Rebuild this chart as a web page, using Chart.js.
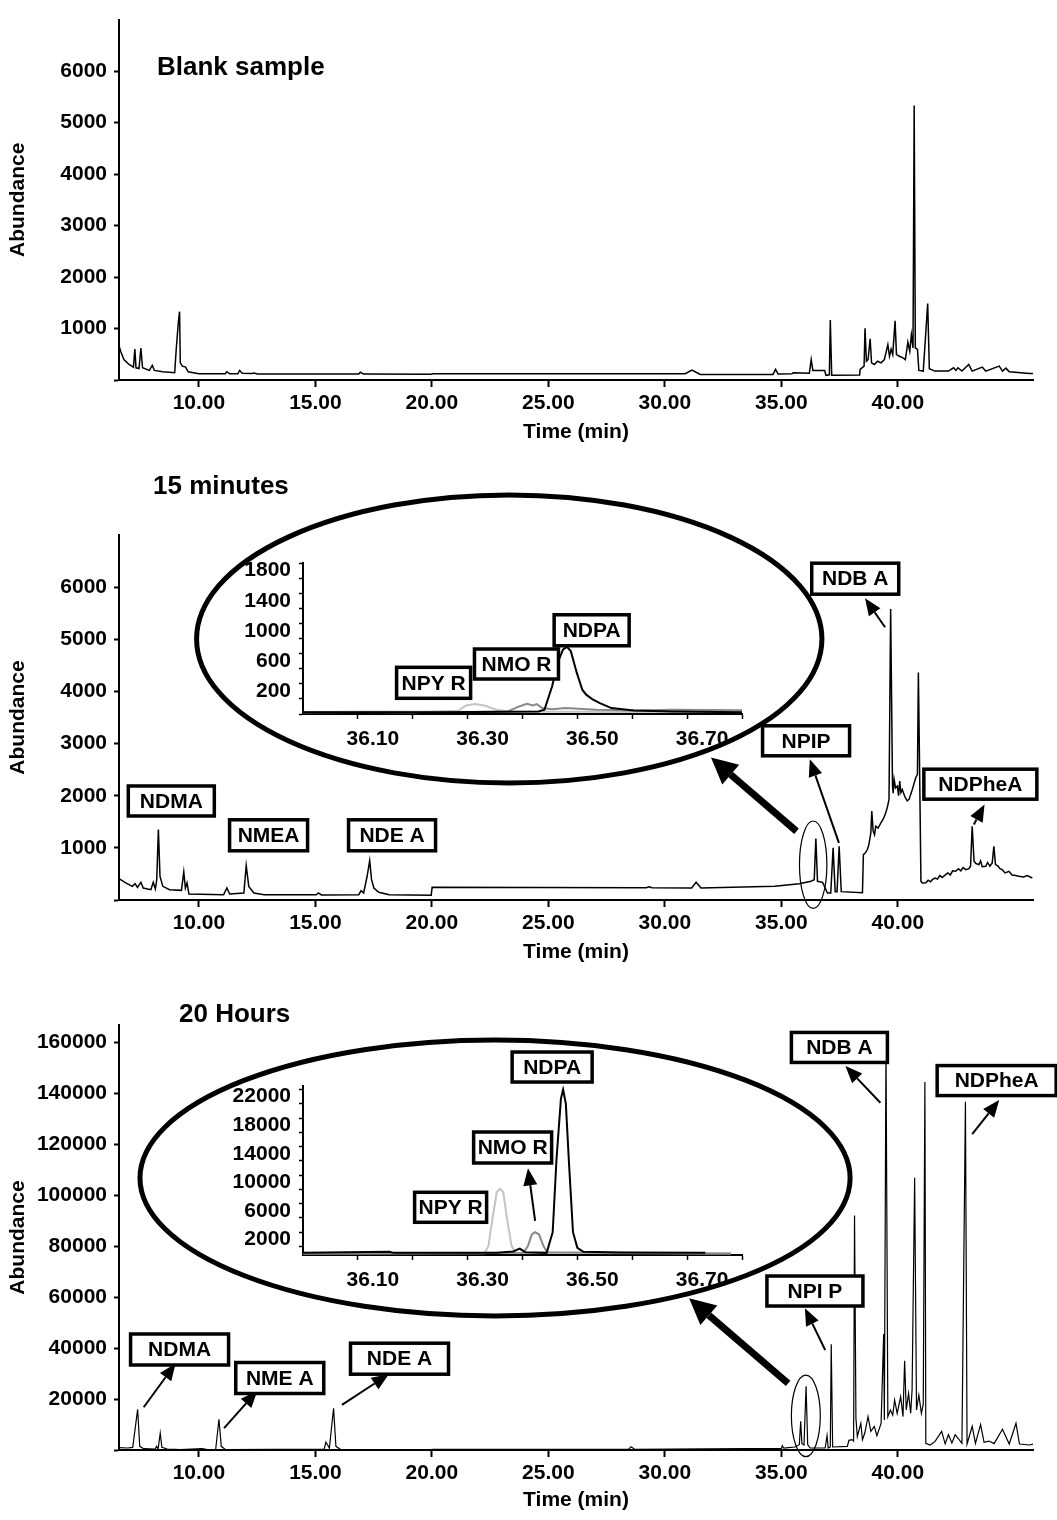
<!DOCTYPE html>
<html>
<head>
<meta charset="utf-8">
<script src="https://cdn.jsdelivr.net/npm/chart.js@4.4.0/dist/chart.umd.min.js"></script>
<style>
  body { margin: 0; background: #fff; }
  #fig { position: relative; width: 1057px; height: 1520px; }
  canvas { position: absolute; }
</style>
</head>
<body>
<div id="fig">
  <canvas id="blank" width="1057" height="452" style="left:0;top:0"></canvas>
  <canvas id="min15" width="1057" height="512" style="left:0;top:460px"></canvas>
  <canvas id="min15Inset" width="540" height="220" style="left:230px;top:540px"></canvas>
  <canvas id="hr20" width="1057" height="530" style="left:0;top:990px"></canvas>
  <canvas id="hr20Inset" width="540" height="250" style="left:230px;top:1040px"></canvas>
</div>
<script>
// ---- data (time in min, abundance) ----
const timeTicks = [10, 15, 20, 25, 30, 35, 40]
const smallYTicks = [0, 1000, 2000, 3000, 4000, 5000, 6000]
const bigYTicks = [0, 20000, 40000, 60000, 80000, 100000, 120000, 140000, 160000]

const blankTime = [6.52, 6.64, 6.78, 7.0, 7.19, 7.25, 7.30, 7.43, 7.51, 7.58, 7.87, 8.0, 8.09, 8.45, 8.96, 9.03, 9.12, 9.17, 9.20, 9.29, 9.43, 9.54, 10.0, 11.13, 11.20, 11.32, 11.67, 11.75, 11.86, 12.29, 12.36, 12.51, 16.86, 16.93, 17.07, 19.97, 20.04, 30.87, 31.16, 31.52, 34.64, 34.75, 34.86, 35.45, 35.51, 36.20, 36.28, 36.35, 36.86, 36.91, 37.06, 37.10, 37.16, 38.36, 38.38, 38.55, 38.59, 38.65, 38.72, 38.81, 38.87, 38.99, 39.13, 39.28, 39.42, 39.57, 39.64, 39.71, 39.78, 39.88, 39.94, 40.07, 40.22, 40.32, 40.43, 40.51, 40.58, 40.65, 40.70, 40.75, 40.84, 40.90, 41.09, 41.28, 41.35, 41.59, 42.17, 42.39, 42.49, 42.58, 42.75, 43.04, 43.19, 43.62, 43.77, 44.35, 44.49, 44.64, 44.78, 45.65, 45.8]
const blankAbund = [750, 558, 397, 301, 250, 603, 237, 224, 622, 237, 186, 282, 186, 160, 141, 622, 1135, 1327, 333, 269, 250, 160, 121, 121, 160, 121, 121, 186, 130, 125, 135, 115, 115, 150, 115, 110, 120, 121, 192, 109, 109, 205, 115, 120, 141, 130, 397, 186, 186, 90, 100, 1167, 90, 96, 205, 269, 1006, 365, 397, 802, 333, 301, 365, 333, 397, 686, 461, 598, 494, 1148, 494, 461, 429, 397, 737, 558, 878, 622, 5333, 622, 600, 186, 173, 1487, 218, 173, 173, 237, 186, 237, 173, 301, 173, 250, 173, 269, 173, 230, 160, 128, 125]

const min15Time = [6.52, 6.86, 7.14, 7.26, 7.36, 7.51, 7.61, 7.94, 8.04, 8.13, 8.19, 8.26, 8.33, 8.45, 8.74, 9.25, 9.35, 9.42, 9.49, 9.57, 11.06, 11.20, 11.32, 11.93, 12.03, 12.14, 12.36, 12.80, 15.04, 15.12, 15.26, 16.86, 16.96, 17.07, 17.22, 17.33, 17.41, 17.51, 17.72, 18.16, 19.97, 20.01, 29.2, 29.32, 29.45, 31.15, 31.34, 31.55, 34.71, 35.77, 36.27, 36.41, 36.48, 36.55, 36.77, 36.98, 37.12, 37.22, 37.31, 37.39, 37.48, 37.57, 38.48, 38.52, 38.6, 38.69, 38.75, 38.84, 38.88, 38.94, 39.0, 39.05, 39.15, 39.27, 39.38, 39.48, 39.55, 39.62, 39.69, 39.77, 39.80, 39.84, 39.90, 39.98, 40.03, 40.08, 40.13, 40.19, 40.3, 40.4, 40.48, 40.62, 40.77, 40.84, 40.88, 40.94, 40.99, 41.05, 41.2, 41.3, 41.4, 41.48, 41.6, 41.7, 41.8, 41.9, 42.05, 42.15, 42.25, 42.35, 42.48, 42.6, 42.7, 42.8, 42.91, 43.05, 43.12, 43.19, 43.27, 43.35, 43.48, 43.55, 43.62, 43.77, 43.85, 43.95, 44.05, 44.12, 44.19, 44.3, 44.38, 44.48, 44.6, 44.77, 44.9, 45.05, 45.19, 45.4, 45.55, 45.77]
const min15Abund = [423, 327, 262, 313, 243, 339, 230, 198, 339, 211, 390, 1352, 454, 262, 198, 185, 538, 230, 327, 115, 102, 230, 115, 135, 660, 262, 135, 102, 102, 135, 96, 102, 179, 135, 455, 755, 390, 230, 148, 102, 90, 243, 235, 255, 235, 230, 340, 230, 262, 313, 358, 390, 1180, 358, 339, 135, 135, 1000, 160, 160, 1031, 160, 140, 871, 900, 968, 1050, 1288, 1704, 1320, 1250, 1415, 1380, 1480, 1560, 1673, 1780, 1929, 5583, 2185, 2050, 2313, 2150, 2185, 2000, 2280, 2060, 2120, 1980, 1900, 1929, 2120, 2350, 2410, 4365, 2250, 358, 326, 330, 380, 350, 390, 420, 400, 470, 430, 487, 520, 480, 560, 550, 600, 560, 620, 583, 600, 647, 1415, 743, 700, 680, 750, 640, 647, 720, 650, 712, 1031, 680, 650, 600, 583, 520, 550, 480, 470, 455, 440, 470, 422]

const hr20Time = [6.51, 6.94, 7.16, 7.37, 7.46, 7.63, 8.13, 8.18, 8.25, 8.34, 8.41, 8.64, 9.21, 10.14, 10.36, 10.72, 10.86, 10.96, 11.15, 15.38, 15.45, 15.60, 15.78, 15.88, 16.10, 19.97, 20.05, 28.45, 28.55, 28.7, 35.0, 35.04, 35.1, 35.58, 35.77, 35.83, 35.88, 35.97, 36.06, 36.13, 36.23, 36.88, 36.96, 37.01, 37.10, 37.14, 37.20, 37.83, 37.90, 38.04, 38.10, 38.14, 38.20, 38.26, 38.41, 38.48, 38.58, 38.72, 38.84, 38.99, 39.10, 39.28, 39.39, 39.42, 39.49, 39.57, 39.68, 39.78, 39.86, 39.97, 40.12, 40.22, 40.29, 40.36, 40.46, 40.55, 40.61, 40.72, 40.80, 40.90, 41.01, 41.09, 41.16, 41.20, 41.38, 41.59, 41.88, 42.03, 42.17, 42.32, 42.46, 42.75, 42.90, 42.97, 43.19, 43.33, 43.55, 43.70, 43.91, 44.13, 44.49, 44.78, 45.07, 45.22, 45.65, 45.8]
const hr20Abund = [1000, 780, 1040, 16000, 1430, 520, 390, 1430, 460, 6630, 1040, 390, 130, 520, 130, 300, 12060, 1430, 130, 390, 3120, 780, 16380, 1430, 130, 130, 300, 300, 1300, 300, 650, 1700, 700, 1180, 2090, 11240, 2480, 2000, 24970, 2090, 780, 780, 5620, 780, 1180, 41500, 1180, 1440, 3790, 4050, 3500, 92000, 12420, 5230, 10460, 4050, 6670, 13070, 7320, 9280, 5620, 10460, 45500, 11770, 159000, 13070, 15680, 13730, 19610, 14380, 20920, 13070, 35000, 15680, 22230, 14380, 23530, 106800, 15680, 21570, 14380, 18000, 144300, 2610, 1960, 3270, 7320, 2400, 6000, 2800, 6000, 2610, 136600, 2350, 9280, 2600, 9930, 3000, 3500, 2500, 8150, 2350, 10460, 2350, 1960, 2350]

// inset windows (time 36.0 - 36.8 min)
const insetTimeTicks = [36.1, 36.2, 36.3, 36.4, 36.5, 36.6, 36.7, 36.8]
const insetTimeLabels = [36.1, 36.3, 36.5, 36.7]
const inset15YMarks = [-100, 100, 300, 500, 700, 900, 1100, 1300, 1500, 1700, 1900]
const inset15YLabels = [200, 600, 1000, 1400, 1800]
const inset20YMarks = [1000, 3000, 5000, 7000, 9000, 11000, 13000, 15000, 17000, 19000, 21000, 23000]
const inset20YLabels = [2000, 6000, 10000, 14000, 18000, 22000]

const ndpa15Time = [36.0, 36.255, 36.429, 36.44, 36.454, 36.464, 36.474, 36.481, 36.488, 36.499, 36.509, 36.516, 36.527, 36.541, 36.562, 36.603, 36.672, 36.8]
const ndpa15Abund = [-76, -76, -67, -44, 267, 578, 756, 790, 733, 444, 222, 156, 98, 44, -22, -53, -67, -76]
const npyr15Time = [36.0, 36.1, 36.2, 36.283, 36.297, 36.314, 36.332, 36.352, 36.373, 36.5, 36.6, 36.7, 36.8]
const npyr15Abund = [-78, -72, -76, -58, 13, 31, 9, -44, -66, -70, -72, -70, -72]
const nmor15Time = [36.0, 36.15, 36.3, 36.373, 36.394, 36.408, 36.419, 36.426, 36.436, 36.454, 36.478, 36.534, 36.603, 36.672, 36.8]
const nmor15Abund = [-74, -70, -72, -67, 0, 36, 13, 31, -22, -36, -22, -44, -53, -44, -50]

const ndpa20Time = [36.0, 36.158, 36.165, 36.353, 36.383, 36.395, 36.405, 36.444, 36.455, 36.462, 36.47, 36.474, 36.479, 36.485, 36.492, 36.5, 36.511, 36.579, 36.733]
const ndpa20Abund = [100, 250, 100, 100, 300, 700, 200, 100, 3000, 13300, 21700, 23000, 21000, 12300, 3000, 800, 250, 150, 100]
const npyr20Time = [36.0, 36.331, 36.338, 36.346, 36.353, 36.359, 36.365, 36.372, 36.38, 36.387, 36.78]
const npyr20Abund = [0, 50, 1100, 5300, 8600, 9100, 8600, 4800, 1100, 100, 0]
const nmor20Time = [36.0, 36.402, 36.41, 36.417, 36.423, 36.43, 36.438, 36.445, 36.78]
const nmor20Abund = [0, 100, 1100, 2700, 3000, 2700, 1100, 200, 0]

const FONT = "'Liberation Sans', Arial, Helvetica, sans-serif"
const pts = (ts, ys) => ts.map((t, i) => ({ x: t, y: ys[i] }))

function arrow(ctx, x0, y0, x1, y1, w, len, half) {
  const a = Math.atan2(y1 - y0, x1 - x0)
  const bx = x1 - len * Math.cos(a), by = y1 - len * Math.sin(a)
  ctx.lineWidth = w
  ctx.beginPath(); ctx.moveTo(x0, y0); ctx.lineTo(bx, by); ctx.stroke()
  ctx.beginPath(); ctx.moveTo(x1, y1)
  ctx.lineTo(bx + half * Math.sin(a), by - half * Math.cos(a))
  ctx.lineTo(bx - half * Math.sin(a), by + half * Math.cos(a))
  ctx.closePath(); ctx.fill()
}

// ellipses, arrows, label boxes and panel titles, placed in data units
const notesPlugin = {
  id: 'notes',
  afterDraw(chart, args, opts) {
    const { ctx, chartArea } = chart
    const sx = chart.scales.x, sy = chart.scales.y
    const px = v => sx.getPixelForValue(v), py = v => sy.getPixelForValue(v)
    ctx.save()
    ctx.strokeStyle = '#000'
    ctx.fillStyle = '#000'
    ;(opts.ellipses || []).forEach(e => {
      const cx = px(e.x), cy = py(e.y)
      ctx.beginPath()
      ctx.ellipse(cx, cy, Math.abs(px(e.x + e.rx) - cx), Math.abs(py(e.y + e.ry) - cy), 0, 0, Math.PI * 2)
      ctx.lineWidth = e.w
      ctx.stroke()
    })
    ;(opts.arrows || []).forEach(a => {
      const big = a.big
      arrow(ctx, px(a.from[0]), py(a.from[1]), px(a.to[0]), py(a.to[1]),
        big ? 7 : 2, big ? 26 : 17, big ? 13 : 7)
    })
    ;(opts.boxes || []).forEach(b => {
      const cx = px(b.x), cy = py(b.y)
      ctx.fillStyle = '#fff'
      ctx.fillRect(cx - b.w / 2, cy - b.h / 2, b.w, b.h)
      ctx.lineWidth = 3.5
      ctx.strokeRect(cx - b.w / 2, cy - b.h / 2, b.w, b.h)
      ctx.fillStyle = '#000'
      ctx.font = 'bold 21px ' + FONT
      ctx.textAlign = 'center'
      ctx.textBaseline = 'middle'
      ctx.fillText(b.text, cx, cy + 1)
    })
    ;(opts.texts || []).forEach(t => {
      ctx.fillStyle = '#000'
      ctx.font = 'bold 26px ' + FONT
      ctx.textAlign = 'left'
      ctx.textBaseline = 'middle'
      ctx.fillText(t.text, chartArea.left + t.dx, chartArea.top + t.dy)
    })
    ctx.restore()
  }
}

const tickFont = { family: FONT, size: 21, weight: 'bold' }

function mainChart(id, series, yMax, yTicks, padTop, xh, lineW, notes) {
  return new Chart(document.getElementById(id), {
    type: 'line',
    data: { datasets: [{ data: series, borderColor: '#000', borderWidth: lineW, pointRadius: 0, tension: 0 }] },
    options: {
      responsive: false, animation: false, events: [],
      layout: { padding: { top: padTop, right: 24, left: 0, bottom: 0 } },
      plugins: { legend: { display: false }, tooltip: { enabled: false }, notes: notes },
      scales: {
        x: {
          type: 'linear', min: 6.57, max: 45.8,
          afterBuildTicks: s => { s.ticks = timeTicks.map(v => ({ value: v })) },
          afterFit: s => { s.height = xh },
          ticks: { autoSkip: false, maxRotation: 0, padding: 4, color: '#000', font: tickFont, callback: v => v.toFixed(2) },
          grid: { drawOnChartArea: false, tickLength: 7, tickWidth: 2, tickColor: '#000' },
          border: { color: '#000', width: 2 },
          title: { display: true, text: 'Time (min)', color: '#000', font: tickFont, padding: { top: 0, bottom: 7 } }
        },
        y: {
          min: 0, max: yMax,
          afterBuildTicks: s => { s.ticks = yTicks.map(v => ({ value: v })) },
          afterFit: s => { s.width = 119 },
          ticks: { autoSkip: false, padding: 7, color: '#000', font: tickFont, callback: v => v === 0 ? '' : String(v) },
          grid: { drawOnChartArea: false, tickLength: 5, tickWidth: 2, tickColor: '#000' },
          border: { color: '#000', width: 2 },
          title: { display: true, text: 'Abundance', color: '#000', font: tickFont, padding: { top: 6, bottom: 0 } }
        }
      }
    },
    plugins: [notesPlugin]
  })
}

function insetChart(id, sets, yMin, yMax, marks, labels, padTop, xh, notes) {
  const all = marks.concat(labels).sort((a, b) => a - b)
  return new Chart(document.getElementById(id), {
    type: 'line',
    data: { datasets: sets },
    options: {
      responsive: false, animation: false, events: [],
      layout: { padding: { top: padTop, right: 28, left: 0, bottom: 0 } },
      plugins: { legend: { display: false }, tooltip: { enabled: false }, notes: notes },
      scales: {
        x: {
          type: 'linear', min: 36.0, max: 36.8,
          afterBuildTicks: s => { s.ticks = insetTimeTicks.map(v => ({ value: v })) },
          afterFit: s => { s.height = xh },
          ticks: { autoSkip: false, maxRotation: 0, padding: 8, labelOffset: 15, color: '#000', font: tickFont,
            callback: v => insetTimeLabels.includes(v) ? v.toFixed(2) : '' },
          grid: { drawOnChartArea: false, tickLength: 5, tickWidth: 1.5, tickColor: '#000' },
          border: { color: '#000', width: 2 }
        },
        y: {
          min: yMin, max: yMax,
          afterBuildTicks: s => { s.ticks = all.map(v => ({ value: v })) },
          afterFit: s => { s.width = 73 },
          ticks: { autoSkip: false, padding: 8, color: '#000', font: tickFont,
            callback: v => labels.includes(v) ? String(v) : '' },
          grid: { drawOnChartArea: false, tickLength: 4, tickWidth: 1.5,
            tickColor: c => marks.includes(c.tick.value) ? '#000' : 'rgba(0,0,0,0)' },
          border: { color: '#000', width: 2 }
        }
      }
    },
    plugins: [notesPlugin]
  })
}

const trace = (ts, ys, color, w) => ({ data: pts(ts, ys), borderColor: color, borderWidth: w, pointRadius: 0, tension: 0 })

mainChart('blank', pts(blankTime, blankAbund), 7000, smallYTicks, 14, 72, 1.5, {
  texts: [{ text: 'Blank sample', dx: 38, dy: 48 }]
})

mainChart('min15', pts(min15Time, min15Abund), 7000, smallYTicks, 75, 72, 1.5, {
  texts: [{ text: '15 minutes', dx: 34, dy: -48 }],
  ellipses: [
    { x: 23.32, y: 5006, rx: 13.42, ry: 2762, w: 5 },
    { x: 36.365, y: 677, rx: 0.588, ry: 838, w: 1.2 }
  ],
  arrows: [
    { from: [35.65, 1319], to: [31.98, 2731], big: true },
    { from: [37.47, 1096], to: [36.22, 2698] },
    { from: [39.45, 5230], to: [38.59, 5788] },
    { from: [43.26, 1448], to: [43.72, 1833] }
  ],
  boxes: [
    { text: 'NDMA', x: 8.815, y: 1899, w: 86, h: 30 },
    { text: 'NMEA', x: 12.99, y: 1241, w: 78, h: 31 },
    { text: 'NDE A', x: 18.29, y: 1241, w: 87, h: 31 },
    { text: 'NPIP', x: 36.06, y: 3053, w: 87, h: 30 },
    { text: 'NDB A', x: 38.17, y: 6162, w: 87, h: 31 },
    { text: 'NDPheA', x: 43.54, y: 2221, w: 113, h: 30 }
  ]
})

insetChart('min15Inset', [
  trace(ndpa15Time, ndpa15Abund, '#000', 2),
  trace(nmor15Time, nmor15Abund, '#8a8a8a', 2),
  trace(npyr15Time, npyr15Abund, '#c4c4c4', 2)
], -100, 1900, inset15YMarks, inset15YLabels, 23, 46, {
  boxes: [
    { text: 'NPY R', x: 36.238, y: 313, w: 74, h: 31 },
    { text: 'NMO R', x: 36.389, y: 562, w: 84, h: 30 },
    { text: 'NDPA', x: 36.526, y: 1009, w: 75, h: 31 }
  ]
})

mainChart('hr20', pts(hr20Time, hr20Abund), 166700, bigYTicks, 35, 70, 1.2, {
  texts: [{ text: '20 Hours', dx: 60, dy: -10 }],
  ellipses: [
    { x: 22.71, y: 106700, rx: 15.24, ry: 54120, w: 5 },
    { x: 36.05, y: 13400, rx: 0.62, ry: 16000, w: 1.2 }
  ],
  arrows: [
    { from: [35.29, 26160], to: [31.04, 59500], big: true },
    { from: [7.63, 16770], to: [9.0, 33930] },
    { from: [11.08, 8580], to: [12.51, 23250] },
    { from: [16.14, 17670], to: [18.15, 29760] },
    { from: [36.88, 39220], to: [36.01, 55570] },
    { from: [39.25, 136200], to: [37.75, 150600] },
    { from: [43.19, 123900], to: [44.35, 137300] }
  ],
  boxes: [
    { text: 'NDMA', x: 9.17, y: 39420, w: 98, h: 31 },
    { text: 'NME A', x: 13.47, y: 28240, w: 88, h: 31 },
    { text: 'NDE A', x: 18.61, y: 35810, w: 98, h: 31 },
    { text: 'NPI P', x: 36.44, y: 62360, w: 96, h: 30 },
    { text: 'NDB A', x: 37.49, y: 157900, w: 96, h: 30 },
    { text: 'NDPheA', x: 44.24, y: 144900, w: 119, h: 30 }
  ]
})

insetChart('hr20Inset', [
  trace(ndpa20Time, ndpa20Abund, '#000', 2),
  trace(nmor20Time, nmor20Abund, '#8a8a8a', 2),
  trace(npyr20Time, npyr20Abund, '#c4c4c4', 2)
], -200, 23500, inset20YMarks, inset20YLabels, 46, 35, {
  arrows: [{ from: [36.423, 4570], to: [36.41, 11950] }],
  boxes: [
    { text: 'NPY R', x: 36.269, y: 6490, w: 72, h: 30 },
    { text: 'NMO R', x: 36.382, y: 14875, w: 78, h: 31 },
    { text: 'NDPA', x: 36.454, y: 26160, w: 80, h: 30 }
  ]
})
</script>
</body>
</html>
